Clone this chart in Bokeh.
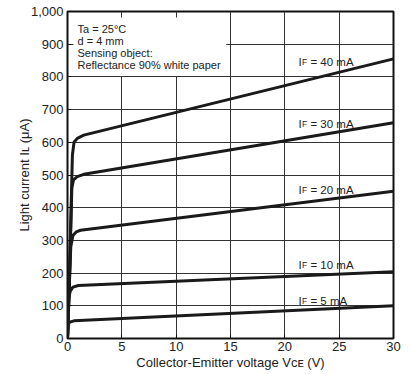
from bokeh.plotting import figure
from bokeh.models import Label, NumeralTickFormatter, FixedTicker, Range1d
from bokeh.embed import file_html
from bokeh.resources import INLINE

# ---- data ----
x_ticks = [0, 5, 10, 15, 20, 25, 30]
y_ticks = [0, 100, 200, 300, 400, 500, 600, 700, 800, 900, 1000]

if_labels = ["40", "30", "20", "10", "5"]

vce_40 = [0, 0.15, 0.45, 0.6, 0.9, 1.5, 30]
il_40 = [0, 150, 560, 600, 612, 622, 855]

vce_30 = [0, 0.15, 0.4, 0.55, 0.9, 1.5, 30]
il_30 = [0, 140, 460, 485, 495, 502, 660]

vce_20 = [0, 0.1, 0.3, 0.5, 0.8, 1.2, 30]
il_20 = [0, 100, 280, 315, 326, 331, 450]

vce_10 = [0, 0.1, 0.25, 0.5, 1.0, 30]
il_10 = [0, 120, 145, 157, 162, 204]

vce_5 = [0, 0.05, 0.2, 0.6, 30]
il_5 = [0, 42, 50, 54, 100]

curves = [(vce_40, il_40), (vce_30, il_30), (vce_20, il_20), (vce_10, il_10), (vce_5, il_5)]
label_y = [847, 657, 455, 226, 116]

conditions = ["Ta = 25°C", "d = 4 mm", "Sensing object:", "Reflectance 90% white paper"]
cond_y = [947, 910, 874, 836]

FONT = "Liberation Sans"
TXT = "#222222"

p = figure(width=411, height=374, output_backend="svg", toolbar_location=None,
           x_range=Range1d(0, 30), y_range=Range1d(0, 1000),
           min_border_left=67, min_border_right=18, min_border_top=11, min_border_bottom=36)

p.background_fill_color = "white"
p.border_fill_color = "white"
p.outline_line_color = "#111111"
p.outline_line_width = 2

# grid
p.xgrid.ticker = FixedTicker(ticks=x_ticks)
p.ygrid.ticker = FixedTicker(ticks=y_ticks)
for g in (p.xgrid, p.ygrid):
    g.grid_line_color = "#333333"
    g.grid_line_width = 1

# axes
p.xaxis.ticker = FixedTicker(ticks=x_ticks)
p.yaxis.ticker = FixedTicker(ticks=y_ticks)
p.yaxis.formatter = NumeralTickFormatter(format="0,0")
for ax in (p.xaxis, p.yaxis):
    ax.axis_line_color = None
    ax.major_tick_in = 4
    ax.major_tick_out = 0
    ax.major_tick_line_color = "#111111"
    ax.minor_tick_line_color = None
    ax.major_label_text_font = FONT
    ax.major_label_text_font_size = "13px"
    ax.major_label_text_color = TXT
    ax.axis_label_text_font = FONT
    ax.axis_label_text_font_size = "13px"
    ax.axis_label_text_font_style = "normal"
    ax.axis_label_text_color = TXT
p.yaxis.major_label_standoff = 4
p.xaxis.major_label_standoff = 3
p.xaxis.axis_label = "Collector-Emitter voltage V\u1d04\u1d07 (V)"
p.yaxis.axis_label = "Light current I\u029f (\u03bcA)"
p.xaxis.axis_label_standoff = 1
p.yaxis.axis_label_standoff = -4

# white box for conditions
p.quad(left=[0.55], right=[14.6], bottom=[803], top=[982], fill_color="white", line_color=None)

# curves
for xs, ys in curves:
    p.line(xs, ys, line_color="#1a1a1a", line_width=3, line_join="round", line_cap="round")

# condition text
for t, yy in zip(conditions, cond_y):
    p.add_layout(Label(x=0.92, y=yy, text=t, text_font=FONT, text_font_size="11px",
                       text_color=TXT, text_baseline="alphabetic"))

# IF labels
for lab, yy in zip(if_labels, label_y):
    p.add_layout(Label(x=21.25, y=yy, text="I", text_font=FONT, text_font_size="11.5px",
                       text_color=TXT, text_baseline="alphabetic"))
    p.add_layout(Label(x=21.25, y=yy, x_offset=3.6, text="F", text_font=FONT, text_font_size="8.5px",
                       text_color=TXT, text_baseline="alphabetic"))
    p.add_layout(Label(x=21.25, y=yy, x_offset=12, text="= " + lab + " mA", text_font=FONT,
                       text_font_size="11.5px", text_color=TXT, text_baseline="alphabetic"))

open("out.html", "w").write(file_html(p, INLINE))
